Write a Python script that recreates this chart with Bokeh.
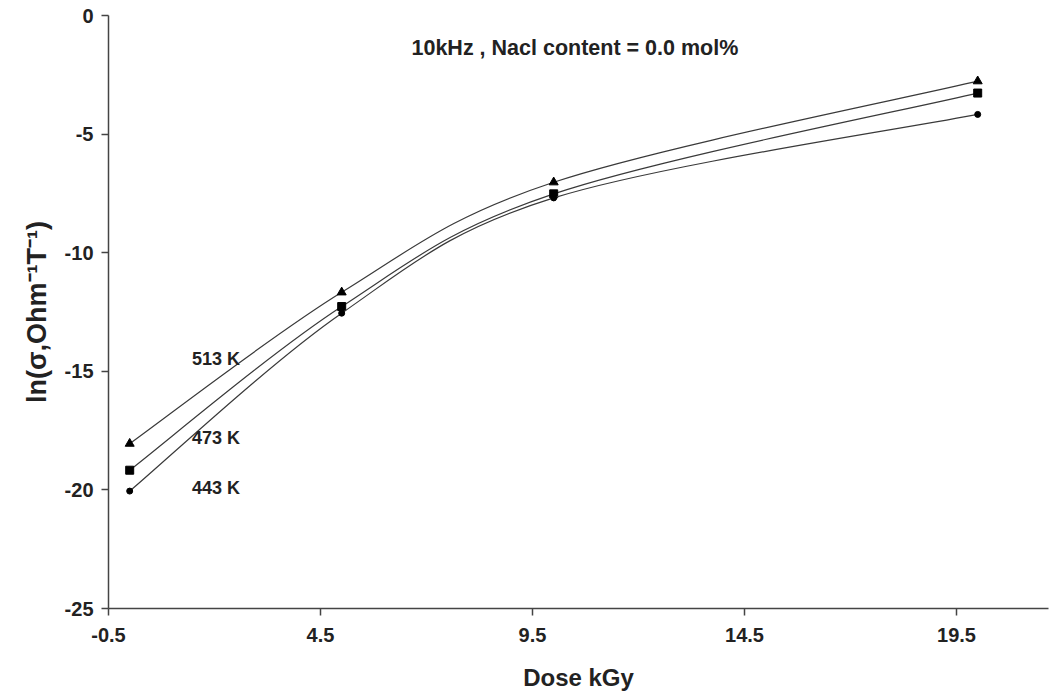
from bokeh.plotting import figure
from bokeh.models import FixedTicker, Label, PrintfTickFormatter
from bokeh.core.properties import value
from bokeh.embed import file_html
from bokeh.resources import INLINE

dose = [0, 5, 10, 20]
ln_513 = [-18.05, -11.67, -7.03, -2.77]
ln_473 = [-19.17, -12.27, -7.52, -3.27]
ln_443 = [-20.05, -12.55, -7.69, -4.17]

series_labels = ["513 K", "473 K", "443 K"]
label_x = [1.47, 1.47, 1.47]
label_y = [-14.47, -17.8, -19.91]

x_ticks = [-0.5, 4.5, 9.5, 14.5, 19.5]
y_ticks = [-25, -20, -15, -10, -5, 0]

title_text = "10kHz , Nacl content = 0.0 mol%"
x_title = "Dose kGy"
y_title = "ln(σ,Ohm⁻¹T⁻¹)"

FONT = "Liberation Sans"

p = figure(width=1050, height=694, x_range=(-0.5, 21.67), y_range=(-25, 0),
           output_backend="svg", toolbar_location=None,
           min_border_left=108, min_border_right=2, min_border_top=15, min_border_bottom=86)
p.outline_line_color = None
p.xgrid.visible = False
p.ygrid.visible = False
p.background_fill_color = "white"
p.border_fill_color = "white"

for ax in (p.xaxis[0], p.yaxis[0]):
    ax.axis_line_color = "#444444"
    ax.axis_line_width = 1.5
    ax.major_tick_line_color = "#444444"
    ax.major_tick_line_width = 1.5
    ax.major_tick_out = 7
    ax.major_tick_in = 0
    ax.minor_tick_line_color = None
    ax.major_label_text_font = FONT
    ax.major_label_text_font_style = "bold"
    ax.major_label_text_font_size = "20px"
    ax.major_label_text_color = "#222222"
    ax.axis_label_text_font = FONT
    ax.axis_label_text_font_style = "bold"
    ax.axis_label_text_color = "#222222"

p.xaxis[0].ticker = FixedTicker(ticks=x_ticks)
p.yaxis[0].ticker = FixedTicker(ticks=y_ticks)
p.xaxis[0].formatter = PrintfTickFormatter(format="%.1f")
p.yaxis[0].formatter = PrintfTickFormatter(format="%d")
p.xaxis[0].axis_label = x_title
p.yaxis[0].axis_label = y_title
p.xaxis[0].axis_label_text_font_size = "24px"
p.yaxis[0].axis_label_text_font_size = "27px"
p.xaxis[0].major_label_standoff = 12
p.yaxis[0].major_label_standoff = 8
p.xaxis[0].axis_label_standoff = 19
p.yaxis[0].axis_label_standoff = 10


def smooth(xs, ys):
    n = len(xs)
    out = dict(x0=[], y0=[], x1=[], y1=[], cx0=[], cy0=[], cx1=[], cy1=[])
    for i in range(n - 1):
        im = max(i - 1, 0)
        ip2 = min(i + 2, n - 1)
        out["x0"].append(xs[i]); out["y0"].append(ys[i])
        out["x1"].append(xs[i + 1]); out["y1"].append(ys[i + 1])
        out["cx0"].append(xs[i] + (xs[i + 1] - xs[im]) / 6)
        out["cy0"].append(ys[i] + (ys[i + 1] - ys[im]) / 6)
        out["cx1"].append(xs[i + 1] - (xs[ip2] - xs[i]) / 6)
        out["cy1"].append(ys[i + 1] - (ys[ip2] - ys[i]) / 6)
    return out


for ys, marker, size in ((ln_513, "triangle", 9), (ln_473, "square", 8), (ln_443, "circle", 6)):
    b = smooth(dose, ys)
    p.bezier(**b, line_color="#3a3a3a", line_width=1.2)
    p.scatter(dose, ys, marker=marker, size=size, fill_color="black", line_color="black")

p.text(x=label_x, y=label_y, text=series_labels, text_font=value(FONT),
       text_font_style="bold", text_font_size="18px", text_color="#222222",
       text_align="left", text_baseline="middle")

p.add_layout(Label(x=10.5, y=-1.36, text=title_text, text_font=FONT,
                   text_font_style="bold", text_font_size="21.5px", text_color="#222222",
                   text_align="center", text_baseline="middle"))

open("out.html", "w").write(file_html(p, INLINE))
